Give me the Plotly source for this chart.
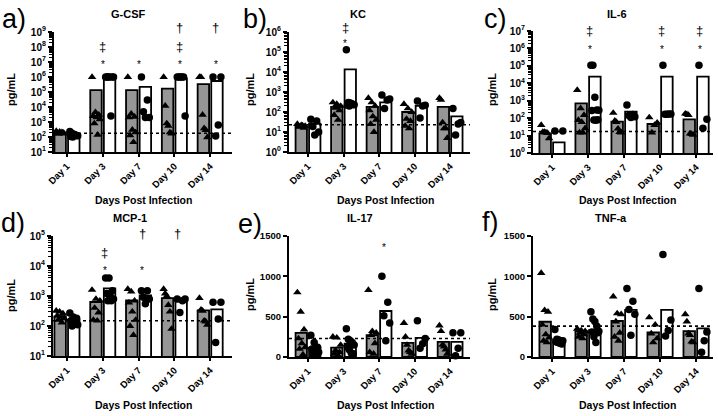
import plotly.graph_objects as go
import numpy as np

W, H = 718, 416
days = ["Day 1", "Day 3", "Day 7", "Day 10", "Day 14"]

# ---------------- data (pg/mL) ----------------
# a) G-CSF
gcsf_tri = [[250, 220, 200, 190, 180, 170, 160, 210],
            [1e6, 4500, 3000, 2500, 2000, 1500, 800, 140],
            [1e6, 3500, 2200, 2000, 300, 200, 130, 45],
            [1e6, 1.2e4, 800, 550, 200, 170],
            [1e6, 1e6, 3000, 380, 290, 95]]
gcsf_cir = [[230, 180, 150, 130, 120, 110, 100, 140, 125],
            [1e6, 1e6, 1e6, 1e6, 1e6, 1e6, 2500],
            [1e6, 2.9e4, 4900, 2000, 2000],
            [1e6, 1e6, 1e6, 1e6, 1e6, 2500],
            [1e6, 1e6, 630, 117]]
gcsf_bar_inf = [195, 1.35e5, 1.35e5, 1.7e5, 3.4e5]
gcsf_bar_ctl = [135, 1e6, 2.2e5, 8.1e5, 5.4e5]
gcsf_lod = 176

# b) KC
kc_tri = [[25, 22, 20, 18, 16, 19, 21],
          [300, 250, 200, 160, 120, 70, 40],
          [500, 300, 200, 120, 60, 40, 25, 10],
          [250, 150, 100, 45, 35, 20, 15],
          [500, 400, 30, 15, 15, 5]]
kc_cir = [[43, 35, 19, 10, 7],
          [1.3e5, 300, 280, 250, 230, 220, 200, 260, 240],
          [700, 450, 400, 150],
          [350, 220, 200, 50],
          [150, 30, 25, 7]]
kc_bar_inf = [18, 180, 180, 100, 180]
kc_bar_ctl = [26, 1.35e4, 300, 205, 60]
kc_lod = 23

# c) IL-6
il6_tri = [[40, 16, 16, 15, 14, 7],
           [4100, 365, 150, 78, 60, 26, 15, 15],
           [200, 70, 60, 25, 16, 15],
           [110, 55, 40, 15],
           [180, 170, 150, 13, 12, 11]]
il6_cir = [[18, 18],
           [1.1e5, 1.1e5, 1600, 295, 280, 270, 78, 75, 80],
           [560, 160, 140, 120, 110],
           [1.1e5, 175, 170, 173, 168],
           [1.1e5, 86, 26]]
il6_bar_inf = [13.5, 710, 63, 46, 86]
il6_bar_ctl = [4.1, 2.4e4, 235, 2.4e4, 2.4e4]
il6_lod = 17

# d) MCP-1
mcp_tri = [[320, 300, 260, 220, 200, 180, 160, 130],
           [1600, 800, 700, 400, 280, 160, 150],
           [1700, 1400, 700, 600, 300, 160, 100, 50],
           [1700, 1200, 1000, 500, 300, 80],
           [850, 350, 320, 150, 140, 110]]
mcp_cir = [[270, 200, 180, 150, 130, 110, 100, 120],
           [4000, 4000, 1500, 1200, 1000, 800, 700, 700],
           [1500, 1500, 900, 800, 550],
           [800, 800, 700, 280],
           [620, 620, 170, 28]]
mcp_bar_inf = [210, 630, 710, 850, 330]
mcp_bar_ctl = [163, 1800, 1040, 660, 360]
mcp_lod = 150

# e) IL-17
il17_tri = [[800, 560, 340, 230, 170, 120, 100, 30],
            [250, 240, 150, 80, 60, 40, 20],
            [830, 320, 300, 270, 170, 60, 40],
            [420, 250, 150, 80, 60, 40],
            [390, 320, 150, 130, 90, 40]]
il17_cir = [[270, 180, 120, 100, 80, 60, 40, 30],
            [350, 220, 200, 180, 150, 120, 90, 50, 40],
            [1000, 680, 510, 420, 200],
            [450, 230, 165, 110],
            [300, 300, 110, 15]]
il17_bar_inf = [300, 117, 270, 175, 188]
il17_bar_ctl = [117, 167, 570, 238, 188]
il17_lod = 229

# f) TNF-a
tnf_tri = [[1040, 580, 560, 400, 280, 240, 200, 180],
           [350, 330, 320, 300, 280, 250, 230],
           [750, 540, 530, 440, 300, 250, 200],
           [490, 400, 290, 230, 180],
           [530, 440, 290, 270, 190, 180]]
tnf_cir = [[340, 220, 210, 200, 200, 190, 180, 170, 160],
           [560, 470, 440, 380, 320, 310, 250, 180, 300],
           [850, 690, 590, 530, 270],
           [1270, 460, 330, 260],
           [850, 310, 200, 60]]
tnf_bar_inf = [437, 320, 446, 304, 321]
tnf_bar_ctl = [208, 333, 583, 583, 354]
tnf_lod = 383

# significance marks: (symbol, group position, level; log10 level for log panels)
gcsf_sig = [("‡", 1.0, 8), ("*", 1.0, 7), ("*", 2.0, 7), ("†", 3.15, 9.3),
            ("‡", 3.15, 8), ("*", 3.15, 7), ("†", 4.15, 9.3), ("*", 4.15, 7)]
kc_sig = [("‡", 1.05, 6.2), ("*", 1.05, 5.55)]
il6_sig = [("‡", 1.05, 7.0), ("*", 1.05, 6.1), ("‡", 3.05, 7.0), ("*", 3.05, 6.1),
           ("‡", 4.1, 7.0), ("*", 4.1, 6.1)]
mcp_sig = [("‡", 1.05, 4.45), ("*", 1.05, 3.95), ("†", 2.1, 5.1), ("*", 2.1, 3.95), ("†", 3.1, 5.1)]
il17_sig = [("*", 2.15, 1400)]
tnf_sig = []

# ---------------- layout helpers ----------------
def px(x):
    return x / W

def py(y):
    return 1 - y / H

FONT = "Liberation Sans"
panels = [
    dict(letter="a)", title="G-CSF", tri=gcsf_tri, cir=gcsf_cir, bi=gcsf_bar_inf, bc=gcsf_bar_ctl,
         lod=gcsf_lod, sig=gcsf_sig, log=True, yr=(1, 9), xpx=(54, 232), ypx=(32, 152),
         xr=(-0.363, 4.61), let=(14, 19), tit=(128, 14), xt=(143, 200), yt=(11, 90)),
    dict(letter="b)", title="KC", tri=kc_tri, cir=kc_cir, bi=kc_bar_inf, bc=kc_bar_ctl,
         lod=kc_lod, sig=kc_sig, log=True, yr=(0, 6), xpx=(289, 470), ypx=(32, 152),
         xr=(-0.535, 4.56), let=(255, 19), tit=(358, 14), xt=(385, 200), yt=(250, 90)),
    dict(letter="c)", title="IL-6", tri=il6_tri, cir=il6_cir, bi=il6_bar_inf, bc=il6_bar_ctl,
         lod=il6_lod, sig=il6_sig, log=True, yr=(0, 7), xpx=(533, 713), ypx=(31, 153),
         xr=(-0.528, 4.47), let=(495, 19), tit=(617, 14), xt=(627, 200), yt=(492, 90)),
    dict(letter="d)", title="MCP-1", tri=mcp_tri, cir=mcp_cir, bi=mcp_bar_inf, bc=mcp_bar_ctl,
         lod=mcp_lod, sig=mcp_sig, log=True, yr=(1, 5), xpx=(53, 232), ypx=(236, 356),
         xr=(-0.39, 4.61), let=(13, 223), tit=(130, 218), xt=(143, 405), yt=(11, 296)),
    dict(letter="e)", title="IL-17", tri=il17_tri, cir=il17_cir, bi=il17_bar_inf, bc=il17_bar_ctl,
         lod=il17_lod, sig=il17_sig, log=False, yr=(0, 1500), xpx=(289, 470), ypx=(236, 357),
         xr=(-0.535, 4.56), let=(250, 224), tit=(360, 218), xt=(385, 405), yt=(250, 295)),
    dict(letter="f)", title="TNF-a", tri=tnf_tri, cir=tnf_cir, bi=tnf_bar_inf, bc=tnf_bar_ctl,
         lod=tnf_lod, sig=tnf_sig, log=False, yr=(0, 1500), xpx=(533, 713), ypx=(236, 357),
         xr=(-0.528, 4.47), let=(490, 222), tit=(611, 218), xt=(627, 405), yt=(492, 295)),
]

OFF = 0.19
BW = 0.32


def spread(n, half=0.11):
    if n == 1:
        return np.array([0.0])
    base = np.linspace(-half, half, n)
    step = 3 if n % 3 else 2
    if np.gcd(step, n) != 1:
        step = 1
    return np.array([base[(i * step) % n] for i in range(n)])


def note(text, x, y, size, bold=True, angle=0):
    return dict(text=text, x=px(x), y=py(y), xref="paper", yref="paper", xanchor="center", yanchor="middle",
                textangle=angle, showarrow=False,
                font=dict(family=FONT, size=size, color="black", weight=("bold" if bold else "normal")))


fig = go.Figure()
annotations = []
layout = {}

for k, p in enumerate(panels):
    ax = "" if k == 0 else str(k + 1)
    xa, ya = "x" + ax, "y" + ax
    gx = np.arange(len(days))
    fig.add_trace(go.Bar(x=gx - OFF, y=p["bi"], width=BW, marker=dict(color="#969696", line=dict(color="black", width=1.8)),
                         xaxis=xa, yaxis=ya, showlegend=False))
    fig.add_trace(go.Bar(x=gx + OFF, y=p["bc"], width=BW, marker=dict(color="white", line=dict(color="black", width=1.8)),
                         xaxis=xa, yaxis=ya, showlegend=False))
    tx, ty, cx, cy = [], [], [], []
    for i in range(len(days)):
        tv = p["tri"][i]
        tx += list(i - OFF + spread(len(tv)))
        ty += list(tv)
        cv = p["cir"][i]
        cx += list(i + OFF + spread(len(cv)))
        cy += list(cv)
    fig.add_trace(go.Scatter(x=tx, y=ty, mode="markers", marker=dict(symbol="triangle-up", size=7.5, color="black"),
                             xaxis=xa, yaxis=ya, showlegend=False, cliponaxis=False))
    fig.add_trace(go.Scatter(x=cx, y=cy, mode="markers", marker=dict(symbol="circle", size=7.5, color="black"),
                             xaxis=xa, yaxis=ya, showlegend=False, cliponaxis=False))
    fig.add_trace(go.Scatter(x=list(p["xr"]), y=[p["lod"], p["lod"]], mode="lines",
                             line=dict(color="black", width=1.6, dash="dot"),
                             xaxis=xa, yaxis=ya, showlegend=False, cliponaxis=False))

    x0, x1 = p["xpx"]
    ytop, ybot = p["ypx"]
    lo, hi = p["yr"]
    layout["xaxis" + ax] = dict(domain=[px(x0), px(x1)], range=list(p["xr"]), anchor=ya, automargin=False,
                                tickvals=list(gx), ticktext=days, tickangle=-45,
                                tickfont=dict(family=FONT, size=9.5, color="black", weight="bold"),
                                showline=True, linewidth=2, linecolor="black", ticks="outside",
                                ticklen=3, tickwidth=1.5, tickcolor="black",
                                showgrid=False, zeroline=False, fixedrange=True)
    if p["log"]:
        layout["yaxis" + ax] = dict(domain=[py(ybot), py(ytop)], type="log", range=[lo, hi], anchor=xa,
                                    automargin=False,
                                    tickvals=[10 ** e for e in range(lo, hi + 1)],
                                    ticktext=["10<sup>%d</sup>" % e for e in range(lo, hi + 1)],
                                    minor=dict(ticks="outside", ticklen=3, tickwidth=1, tickcolor="black", dtick="D1", showgrid=False),
                                    tickfont=dict(family=FONT, size=10, color="black", weight="bold"),
                                    showline=True, linewidth=2.2, linecolor="black", ticks="outside",
                                    ticklen=4, tickwidth=2, tickcolor="black",
                                    showgrid=False, zeroline=False, fixedrange=True)
    else:
        layout["yaxis" + ax] = dict(domain=[py(ybot), py(ytop)], range=list(p["yr"]), anchor=xa,
                                    automargin=False,
                                    tickvals=[0, 500, 1000, 1500],
                                    tickfont=dict(family=FONT, size=9.5, color="black", weight="bold"),
                                    showline=True, linewidth=2.2, linecolor="black", ticks="outside",
                                    ticklen=4, tickwidth=2, tickcolor="black",
                                    showgrid=False, zeroline=False, fixedrange=True)

    # texts
    annotations.append(note(p["letter"], p["let"][0], p["let"][1], 27, bold=False))
    annotations.append(note(p["title"], p["tit"][0], p["tit"][1], 11))
    annotations.append(note("Days Post Infection", p["xt"][0], p["xt"][1], 10.5))
    annotations.append(note("pg/mL", p["yt"][0], p["yt"][1], 11, angle=-90))
    for sym, gpos, lvl in p["sig"]:
        annotations.append(dict(text=sym, x=gpos, y=(lvl - lo) / (hi - lo), xref=xa, yref=ya + " domain",
                                showarrow=False, xanchor="center", yanchor="middle",
                                yshift=(-3 if sym == "*" else 0),
                                font=dict(family=FONT, size=(10 if sym == "*" else 13), color="black")))

fig.update_layout(width=W, height=H, margin=dict(l=0, r=0, t=0, b=0), paper_bgcolor="white",
                  plot_bgcolor="white", barmode="overlay", annotations=annotations, template="none", **layout)
fig.write_html("out.html", config={"displayModeBar": False},
               post_script="document.body.style.margin='0px';")
